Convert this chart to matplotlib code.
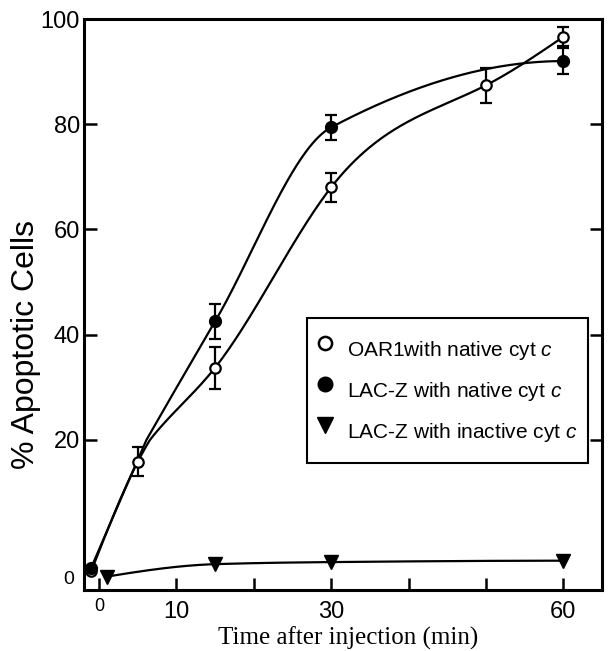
import numpy as np
import matplotlib.pyplot as plt
from matplotlib.lines import Line2D

# data
time_oar1 = [-1, 5, 15, 30, 50, 60]
oar1 = [1.0, 16.8, 33.7, 68.0, 87.4, 96.6]
oar1_err = [0, 2.1, 4.0, 2.7, 3.3, 1.8]

time_lacz = [-1, 15, 30, 60]
lacz = [1.5, 42.5, 79.4, 92.0]
lacz_err = [0, 3.4, 2.4, 2.4]

time_inact = [1, 15, 30, 60]
inact = [0.2, 2.0, 2.3, 2.5]

labels = ["OAR1with native cyt $c$",
          "LAC-Z with native cyt $c$",
          "LAC-Z with inactive cyt $c$"]

plt.rcParams["font.family"] = ["Liberation Sans", "DejaVu Sans"]
plt.rcParams["mathtext.fontset"] = "custom"
plt.rcParams["mathtext.rm"] = "Liberation Sans"
plt.rcParams["mathtext.it"] = "Liberation Sans:italic"


# natural cubic spline through the points
def spline(x, y, n=300):
    x = np.asarray(x, float)
    y = np.asarray(y, float)
    k = len(x)
    h = np.diff(x)
    A = np.zeros((k, k))
    b = np.zeros(k)
    A[0, 0] = A[-1, -1] = 1
    for i in range(1, k - 1):
        A[i, i - 1] = h[i - 1]
        A[i, i] = 2 * (h[i - 1] + h[i])
        A[i, i + 1] = h[i]
        b[i] = 3 * ((y[i + 1] - y[i]) / h[i] - (y[i] - y[i - 1]) / h[i - 1])
    c = np.linalg.solve(A, b)
    bb = (y[1:] - y[:-1]) / h - h * (2 * c[:-1] + c[1:]) / 3
    d = (c[1:] - c[:-1]) / (3 * h)
    xs = np.linspace(x[0], x[-1], n)
    j = np.clip(np.searchsorted(x, xs) - 1, 0, k - 2)
    dx = xs - x[j]
    ys = y[j] + bb[j] * dx + c[j] * dx ** 2 + d[j] * dx ** 3
    return xs, ys


# monotone cubic (pchip) through the points
def pchip(x, y, n=300):
    x = np.asarray(x, float)
    y = np.asarray(y, float)
    h = np.diff(x)
    dl = np.diff(y) / h
    m = np.zeros(len(x))
    for i in range(1, len(x) - 1):
        if dl[i - 1] * dl[i] > 0:
            w1 = 2 * h[i] + h[i - 1]
            w2 = h[i] + 2 * h[i - 1]
            m[i] = (w1 + w2) / (w1 / dl[i - 1] + w2 / dl[i])

    def end(h0, h1, d0, d1):
        s = ((2 * h0 + h1) * d0 - h0 * d1) / (h0 + h1)
        if np.sign(s) != np.sign(d0):
            s = 0
        elif np.sign(d0) != np.sign(d1) and abs(s) > abs(3 * d0):
            s = 3 * d0
        return s

    m[0] = end(h[0], h[1], dl[0], dl[1])
    m[-1] = end(h[-1], h[-2], dl[-1], dl[-2])
    xs = np.linspace(x[0], x[-1], n)
    j = np.clip(np.searchsorted(x, xs) - 1, 0, len(x) - 2)
    u = (xs - x[j]) / h[j]
    ys = ((1 - 3 * u ** 2 + 2 * u ** 3) * y[j] + (u - 2 * u ** 2 + u ** 3) * h[j] * m[j]
          + (3 * u ** 2 - 2 * u ** 3) * y[j + 1] + (u ** 3 - u ** 2) * h[j] * m[j + 1])
    return xs, ys


# y axis is stretched below 20
def fwd(v):
    v = np.asarray(v, float)
    return np.where(v >= 20, v, 20 - (20 - v) * 1.314)


def inv(v):
    v = np.asarray(v, float)
    return np.where(v >= 20, v, 20 - (20 - v) / 1.314)


fig = plt.figure(figsize=(6.08, 6.51), dpi=100)
ax = fig.add_axes([84 / 608, 61 / 651, 518 / 608, 571 / 651])
ax.set_yscale("function", functions=(fwd, inv))

lw = 1.6
for xs, ys in [spline(time_oar1, oar1), pchip(time_lacz, lacz), pchip(time_inact, inact)]:
    ax.plot(xs, ys, color="black", lw=lw, zorder=2)

ax.errorbar(time_oar1, oar1, yerr=oar1_err, fmt="none", ecolor="black",
            elinewidth=1.6, capsize=4.5, capthick=1.6, zorder=3)
ax.errorbar(time_lacz, lacz, yerr=lacz_err, fmt="none", ecolor="black",
            elinewidth=1.6, capsize=4.5, capthick=1.6, zorder=3)

ax.plot(time_oar1, oar1, "o", ms=7.5, mfc="white", mec="black", mew=1.6, zorder=4)
ax.plot(time_lacz, lacz, "o", ms=8.5, mfc="black", mec="black", zorder=4)
ax.plot(time_inact, inact, "v", ms=9.5, mfc="black", mec="black", zorder=4)

ax.set_xlim(-1.94, 65)
ax.set_ylim(-1.74, 100)

ax.set_xticks([10, 20, 30, 40, 50, 60], ["10", "", "30", "", "", "60"])
ax.set_xticks([0], ["0"], minor=True)
ax.set_yticks([20, 40, 60, 80, 100])
ax.set_yticks([0], ["0"], minor=True)

ax.tick_params(axis="both", which="both", direction="in", width=1.8,
               length=9, labelsize=17, pad=3)
ax.tick_params(axis="x", which="major", pad=8)
ax.tick_params(axis="x", which="minor", labelsize=13, pad=6)
ax.tick_params(axis="y", which="minor", labelsize=14, length=0, pad=7)
ax.tick_params(axis="y", which="major", right=True)

for s in ax.spines.values():
    s.set_linewidth(2.2)

ax.set_xlabel("Time after injection (min)", family="Liberation Serif", fontsize=18)
ax.xaxis.set_label_coords(0.51, -0.064)
ax.set_ylabel("% Apoptotic Cells", fontsize=23)
ax.yaxis.set_label_coords(-0.083, 0.43)

handles = [
    Line2D([], [], ls="none", marker="o", ms=9.5, mfc="white", mec="black", mew=1.8),
    Line2D([], [], ls="none", marker="o", ms=10.5, mfc="black", mec="black"),
    Line2D([], [], ls="none", marker="v", ms=12, mfc="black", mec="black"),
]
leg = ax.legend(handles, labels, loc="upper left", bbox_to_anchor=(0.43, 0.476),
                fontsize=15, frameon=True, fancybox=False, framealpha=1,
                edgecolor="black", borderpad=0.53, labelspacing=0.0,
                handleheight=2.65, handlelength=0.67, handletextpad=0.72,
                borderaxespad=0)
leg.get_frame().set_linewidth(1.5)

fig.savefig("out.png", dpi=100)
